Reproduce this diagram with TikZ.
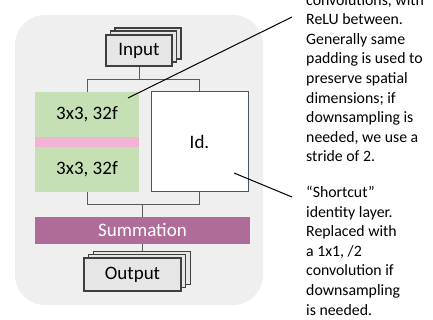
\documentclass[tikz,border=0pt]{standalone}
\usepackage{fontspec}
\setmainfont{Carlito}
\definecolor{bgc}{HTML}{EFEFEF}
\definecolor{boxfill}{HTML}{E7E6E6}
\definecolor{boxdraw}{HTML}{3F3F3F}
\definecolor{linec}{HTML}{5A5A5A}
\definecolor{greenc}{HTML}{C5E0B4}
\definecolor{pinkc}{HTML}{F2B4D6}
\definecolor{idc}{HTML}{44546A}
\definecolor{sumc}{HTML}{B06C98}
\begin{document}
\begin{tikzpicture}[x=1pt,y=-1pt,
  stackbox/.style={draw=boxdraw, fill=boxfill, line width=1.2pt, inner sep=0pt, font=\fontsize{19}{23}\selectfont},
  convbox/.style={fill=greenc, inner sep=0pt, minimum width=104pt, minimum height=45pt, font=\fontsize{19}{23}\selectfont},
  conn/.style={draw=linec, line width=0.9pt},
  callout/.style={draw=black, line width=1pt},
  note/.style={align=left, inner sep=0pt, font=\fontsize{15.8}{19.6}\selectfont}]
\clip (0,0) rectangle (433,320);
\fill[white] (0,0) rectangle (433,320);
\fill[bgc, rounded corners=30pt] (15,15) rectangle (263,305);
% input stack
\node[stackbox, minimum width=66pt, minimum height=31pt] (input3) at (148,43.5) {};
\node[stackbox, minimum width=66pt, minimum height=31pt] (input2) at (143.5,46.5) {};
\node[stackbox, minimum width=66pt, minimum height=31pt] (input) at (139,50.5) {Input};
% conv blocks
\node[convbox] (conv1) at (87,114.5) {3x3, 32f};
\node[fill=pinkc, inner sep=0pt, minimum width=104pt, minimum height=10pt] (stripe) at (87,142) {};
\node[convbox] (conv2) at (87,169.5) {3x3, 32f};
\node[draw=idc, fill=white, line width=1pt, inner sep=0pt, minimum width=97pt, minimum height=100pt, font=\fontsize{19}{23}\selectfont] (id) at (199.5,142) {Id.};
% summation
\node[fill=sumc, text=white, inner sep=0pt, minimum width=215pt, minimum height=27pt, font=\fontsize{19}{23}\selectfont] (sum) at (142.5,230.5) {Summation};
% output stack
\node[stackbox, minimum width=97pt, minimum height=33pt] (output3) at (142.2,267.8) {};
\node[stackbox, minimum width=97pt, minimum height=33pt] (output2) at (137.2,271.2) {};
\node[stackbox, minimum width=97pt, minimum height=33pt] (output) at (132.5,274.5) {Output};
% connectors
\coordinate (top) at (139,79);
\coordinate (bot) at (142,204);
\draw[conn] (input.south) -- (top);
\draw[conn] (conv1.north) |- (top);
\draw[conn] (id.north) |- (top);
\draw[conn] (conv2.south) |- (bot);
\draw[conn] (id.south) |- (bot);
\draw[conn] (bot) -- (bot |- sum.north);
\draw[conn] (bot |- sum.south) -- (bot |- output3.north);
% notes
\node[note, anchor=north west] (note1) at (306,-6) {convolutions, with\\ReLU between.\\Generally same\\padding is used to\\preserve spatial\\dimensions; if\\downsampling is\\needed, we use a\\stride of 2.};
\node[note, anchor=north west] (note2) at (306,186) {“Shortcut”\\identity layer.\\Replaced with\\a 1x1, /2\\convolution if\\downsampling\\is needed.};
% callouts
\coordinate (c1a) at (128,98);
\coordinate (c1b) at (292,17);
\coordinate (c2a) at (234,173);
\coordinate (c2b) at (292,197);
\draw[callout] (c1a) -- (c1b);
\draw[callout] (c2a) -- (c2b);
\end{tikzpicture}
\end{document}
